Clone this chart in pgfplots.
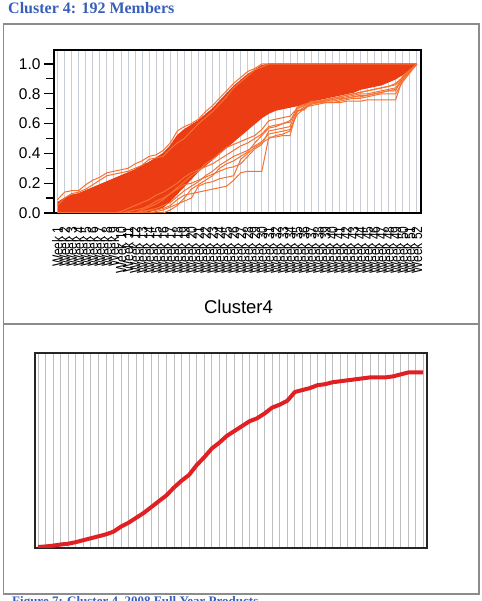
\documentclass[border=0pt]{standalone}
\usepackage{pgfplots}
\pgfplotsset{compat=1.18}
\usepgfplotslibrary{fillbetween}
\usepackage{pgfplotstable}
\usepackage{graphicx}
\usepackage{fontspec}
\setmainfont{Liberation Sans}
\newfontfamily\capfont{Liberation Serif}
\definecolor{titleblue}{RGB}{55,95,185}
\definecolor{band}{RGB}{236,60,20}
\definecolor{stray}{RGB}{246,112,50}
\definecolor{meanred}{RGB}{225,32,36}
\definecolor{gridtop}{RGB}{200,204,214}
\definecolor{gridbot}{RGB}{190,190,190}
\definecolor{framegray}{RGB}{140,140,140}

\pgfplotstableread{
w U L U1 U2 S1 S2 S3 S4 S5 S6 S7
1 0.07 0 0.09 0.05 0 0 0 0 0 0 0
2 0.10 0 0.14 0.10 0 0 0 0 0 0 0
3 0.12 0 0.15 0.13 0 0 0 0 0 0 0
4 0.13 0 0.15 0.14 0 0 0 0 0 0 0
5 0.15 0 0.19 0.16 0 0 0 0 0 0 0
6 0.17 0 0.22 0.19 0 0 0 0 0 0 0
7 0.19 0 0.24 0.22 0 0 0 0 0 0 0
8 0.21 0 0.27 0.25 0 0 0 0 0 0 0
9 0.23 0 0.28 0.26 0 0 0 0 0 0 0
10 0.25 0 0.29 0.27 0 0 0.01 0 0 0 0
11 0.27 0 0.30 0.28 0 0.01 0.03 0 0 0 0
12 0.29 0 0.33 0.30 0 0.02 0.05 0 0 0 0
13 0.32 0.005 0.35 0.32 0 0.03 0.07 0.02 0.01 0 0
14 0.34 0.01 0.38 0.36 0.02 0.05 0.09 0.04 0.02 0 0
15 0.37 0.02 0.39 0.37 0.02 0.08 0.12 0.06 0.03 0.01 0
16 0.40 0.04 0.42 0.38 0.03 0.10 0.14 0.09 0.05 0.02 0
17 0.45 0.08 0.47 0.43 0.05 0.13 0.17 0.13 0.07 0.04 0.02
18 0.52 0.13 0.55 0.47 0.09 0.16 0.20 0.17 0.11 0.06 0.05
19 0.56 0.18 0.58 0.50 0.12 0.19 0.24 0.21 0.15 0.08 0.10
20 0.59 0.23 0.60 0.55 0.13 0.20 0.27 0.25 0.18 0.10 0.16
21 0.62 0.28 0.63 0.60 0.14 0.22 0.29 0.28 0.21 0.18 0.19
22 0.66 0.32 0.68 0.64 0.15 0.24 0.31 0.33 0.25 0.20 0.22
23 0.70 0.36 0.72 0.68 0.16 0.26 0.33 0.36 0.28 0.21 0.25
24 0.75 0.40 0.77 0.73 0.17 0.28 0.36 0.40 0.32 0.23 0.30
25 0.80 0.44 0.82 0.78 0.18 0.30 0.39 0.44 0.35 0.24 0.33
26 0.85 0.48 0.87 0.84 0.22 0.31 0.42 0.46 0.38 0.25 0.35
27 0.89 0.52 0.91 0.88 0.27 0.33 0.45 0.48 0.40 0.36 0.38
28 0.93 0.56 0.95 0.92 0.28 0.38 0.47 0.50 0.42 0.40 0.41
29 0.96 0.60 0.97 0.96 0.28 0.43 0.50 0.52 0.45 0.44 0.47
30 0.99 0.64 1.00 0.98 0.28 0.46 0.53 0.56 0.48 0.47 0.52
31 1.00 0.67 1.00 1.00 0.51 0.55 0.58 0.62 0.53 0.50 0.57
32 1.00 0.69 1.00 1.00 0.51 0.56 0.59 0.63 0.54 0.52 0.58
33 1.00 0.70 1.00 1.00 0.52 0.57 0.60 0.64 0.55 0.53 0.60
34 1.00 0.71 1.00 1.00 0.52 0.58 0.62 0.65 0.56 0.55 0.61
35 1.00 0.72 1.00 1.00 0.69 0.70 0.68 0.70 0.66 0.68 0.71
36 1.00 0.73 1.00 1.00 0.69 0.72 0.71 0.72 0.70 0.70 0.73
37 1.00 0.75 1.00 1.00 0.74 0.75 0.72 0.73 0.74 0.73 0.74
38 1.00 0.76 1.00 1.00 0.74 0.75 0.73 0.74 0.75 0.74 0.75
39 1.00 0.77 1.00 1.00 0.74 0.76 0.74 0.76 0.75 0.75 0.76
40 1.00 0.78 1.00 1.00 0.74 0.76 0.74 0.77 0.76 0.75 0.77
41 1.00 0.79 1.00 1.00 0.74 0.77 0.75 0.78 0.77 0.76 0.78
42 1.00 0.80 1.00 1.00 0.75 0.77 0.76 0.79 0.78 0.77 0.79
43 1.00 0.81 1.00 1.00 0.75 0.78 0.77 0.80 0.79 0.78 0.80
44 1.00 0.83 1.00 1.00 0.75 0.78 0.77 0.81 0.80 0.79 0.81
45 1.00 0.84 1.00 1.00 0.76 0.79 0.78 0.82 0.80 0.79 0.82
46 1.00 0.85 1.00 1.00 0.76 0.80 0.79 0.83 0.81 0.80 0.83
47 1.00 0.86 1.00 1.00 0.76 0.81 0.80 0.84 0.82 0.81 0.84
48 1.00 0.88 1.00 1.00 0.76 0.82 0.80 0.85 0.83 0.82 0.85
49 1.00 0.90 1.00 1.00 0.76 0.82 0.80 0.87 0.84 0.83 0.86
50 1.00 0.93 1.00 1.00 0.90 0.92 0.88 0.91 0.90 0.89 0.91
51 1.00 0.96 1.00 1.00 0.95 0.96 0.94 0.95 0.95 0.95 0.95
52 1.00 1.00 1.00 1.00 1.00 1.00 1.00 1.00 1.00 1.00 1.00
}\clusterdata

\pgfplotstableread{
w m
1 0.005
2 0.008
3 0.012
4 0.018
5 0.022
6 0.030
7 0.040
8 0.050
9 0.060
10 0.070
11 0.084
12 0.110
13 0.130
14 0.155
15 0.180
16 0.210
17 0.240
18 0.270
19 0.310
20 0.345
21 0.375
22 0.425
23 0.465
24 0.510
25 0.540
26 0.575
27 0.600
28 0.625
29 0.650
30 0.665
31 0.690
32 0.720
33 0.735
34 0.755
35 0.800
36 0.810
37 0.820
38 0.835
39 0.840
40 0.850
41 0.855
42 0.860
43 0.865
44 0.870
45 0.875
46 0.875
47 0.875
48 0.880
49 0.890
50 0.900
51 0.900
52 0.900
}\meandata

\begin{document}
\begin{tikzpicture}
\draw[framegray, line width=1.3pt] (3.5pt,7pt) rectangle (479pt,577pt);
\draw[framegray, line width=1.3pt] (3.5pt,277pt) -- (479pt,277pt);
\node[anchor=base west, inner sep=0pt, text=titleblue, font=\capfont\bfseries\fontsize{16}{16}\selectfont] at (8pt,587.7pt) {Cluster 4: 192 Members};
\node[anchor=base west, inner sep=0pt, text=titleblue, font=\capfont\bfseries\fontsize{13}{13}\selectfont] at (12pt,-4.9pt) {Figure 7: Cluster 4, 2008 Full Year Products};
\node[anchor=base, inner sep=0pt, font=\fontsize{18.5}{18.5}\selectfont] at (238.5pt,287.5pt) {Cluster4};

\begin{axis}[
  at={(54pt,388pt)}, anchor=south west, scale only axis,
  width=367pt, height=163pt,
  xmin=0.5, xmax=52.6, ymin=0, ymax=1.094,
  axis line style={line width=1.4pt, black},
  xtick={1,...,52},
  xticklabel={\scalebox{1}[1.25]{Week \pgfmathprintnumber{\tick}}},
  /pgf/number format/assume math mode=true,
  xmajorgrids,
  major x grid style={gridtop, line width=0.8pt},
  xtick style={/pgfplots/major tick length=0pt},
  xtick pos=bottom, ytick pos=left,
  ytick={0,0.2,0.4,0.6,0.8,1.0},
  yticklabels={0.0,0.2,0.4,0.6,0.8,1.0},
  minor y tick num=1,
  tick align=outside,
  ytick style={black, line width=1.2pt},
  major tick length=10pt, minor tick length=8pt,
  yticklabel style={font=\fontsize{15.5}{15.5}\selectfont},
  xticklabel style={rotate=90, anchor=east, font=\fontsize{12}{12}\selectfont},
]
\addplot[name path=U, band, line width=1pt] table[x=w,y=U]{\clusterdata};
\addplot[name path=L, band, line width=1pt] table[x=w,y=L]{\clusterdata};
\addplot[band] fill between[of=U and L];
\addplot[stray, line width=1pt] table[x=w,y=U1]{\clusterdata};
\addplot[stray, line width=1pt] table[x=w,y=U2]{\clusterdata};
\addplot[stray, line width=1pt] table[x=w,y=S1]{\clusterdata};
\addplot[stray, line width=1pt] table[x=w,y=S2]{\clusterdata};
\addplot[stray, line width=1pt] table[x=w,y=S3]{\clusterdata};
\addplot[stray, line width=1pt] table[x=w,y=S4]{\clusterdata};
\addplot[stray, line width=1pt] table[x=w,y=S5]{\clusterdata};
\addplot[stray, line width=1pt] table[x=w,y=S6]{\clusterdata};
\addplot[stray, line width=1pt] table[x=w,y=S7]{\clusterdata};
\end{axis}

\begin{axis}[
  at={(35pt,53pt)}, anchor=south west, scale only axis,
  width=392pt, height=195pt,
  xmin=0.6, xmax=52.5, ymin=0, ymax=1,
  axis line style={line width=1.4pt, black!85},
  xtick={1,...,52}, xticklabels={},
  ytick=\empty,
  xmajorgrids,
  major x grid style={gridbot, line width=0.8pt},
  major tick length=0pt,
]
\addplot[meanred, line width=4pt, line join=round] table[x=w,y=m]{\meandata};
\end{axis}
\pgfresetboundingbox
\useasboundingbox (0pt,0pt) rectangle (481pt,601pt);
\end{tikzpicture}
\end{document}
